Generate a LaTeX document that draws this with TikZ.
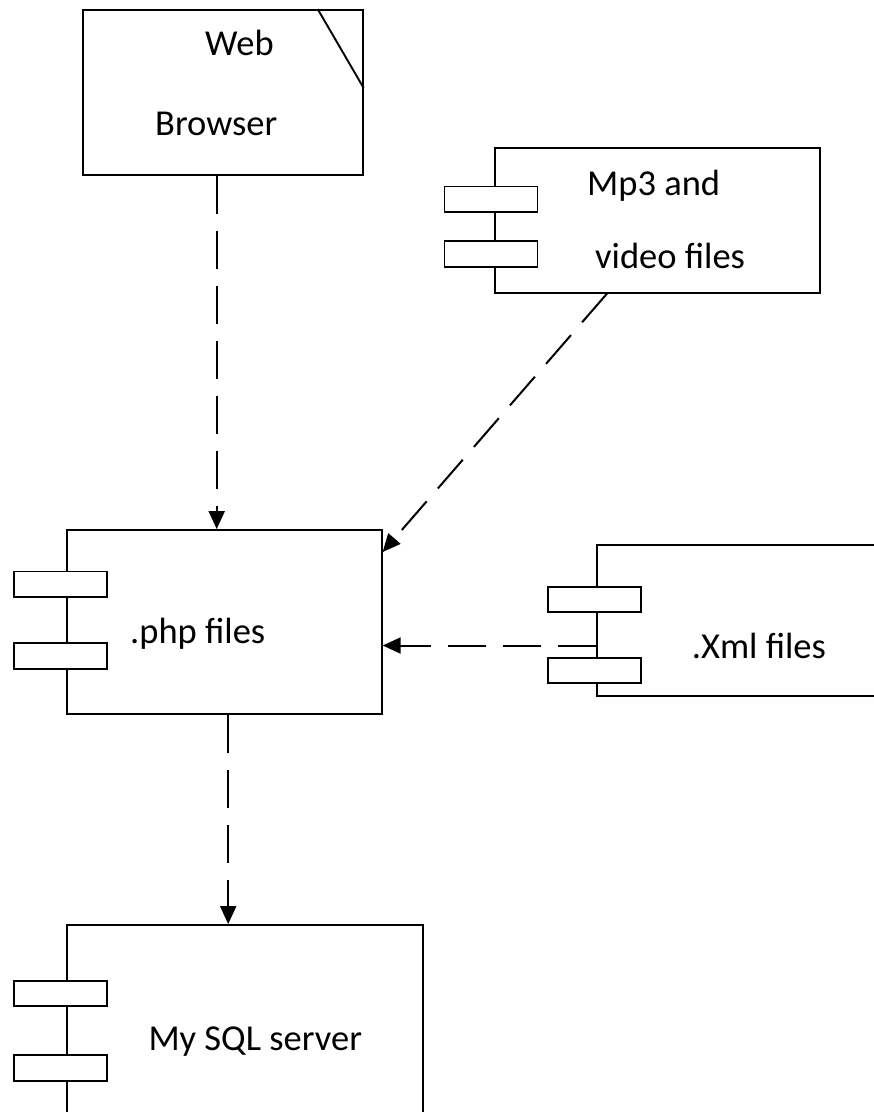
\documentclass[tikz,border=0pt]{standalone}
\usepackage{fontspec}
\setmainfont{Carlito}
\usetikzlibrary{arrows.meta}
\begin{document}
\begin{tikzpicture}[x=1pt,y=-1pt,
  box/.style={draw,line width=1.9pt,fill=white,inner sep=0pt,anchor=center},
  port/.style={draw,line width=1.9pt,fill=white,inner sep=0pt,minimum width=93pt,minimum height=25.5pt},
  lbl/.style={inner sep=0pt,anchor=base west,font=\fontsize{36.5}{40}\selectfont},
  dep/.style={line width=2pt,dash pattern=on 38pt off 17pt,-{Triangle[length=18pt,width=16pt]}}]
\useasboundingbox (0,0) rectangle (874,1112);
\clip (0,0) rectangle (874,1112);
% boxes
\node[box,minimum width=280pt,minimum height=164.7pt] (web) at (222.7,92.3) {};
\node[box,minimum width=325pt,minimum height=144.7pt] (mp3) at (657.5,220.3) {};
\node[box,minimum width=315pt,minimum height=184pt] (php) at (224.2,622) {};
\node[box,minimum width=322.7pt,minimum height=151pt] (xml) at (758.7,620.5) {};
\node[box,minimum width=356pt,minimum height=235pt] (sql) at (244.7,1042.5) {};
% fold corner of web browser
\coordinate (f1) at ([xshift=-46pt]web.north east);
\coordinate (f2) at ([yshift=-79pt]web.north east);
\draw[line width=1.9pt] (f1) -- (f2);
% component ports
\node[port] (mp3a) at (491,199.2) {};
\node[port] (mp3b) at (491,254) {};
\node[port] (phpa) at (60.5,584.2) {};
\node[port] (phpb) at (60.5,655.8) {};
\node[port] (xmla) at (594.2,599.5) {};
\node[port] (xmlb) at (594.2,670.5) {};
\node[port] (sqla) at (60.5,993.3) {};
\node[port] (sqlb) at (60.5,1067.8) {};
% labels
\node[lbl] (tweb) at (205,55) {Web};
\node[lbl] (tbrowser) at (155,135) {Browser};
\node[lbl] (tmp3) at (587,195) {Mp3 and};
\node[lbl] (tvideo) at (595,268) {video files};
\node[lbl] (tphp) at (130,643.3) {.php files};
\node[lbl] (txml) at (691.7,658.3) {.Xml files};
\node[lbl] (tsql) at (148.3,1050) {My SQL server};
% connectors
\draw[dep] ([xshift=-6pt]web.south) -- ([xshift=-6pt]web.south |- php.north);
\draw[dep] ([xshift=-50.5pt]mp3.south) -- ([yshift=-23pt]php.north east);
\draw[dep] ([yshift=-25pt]xml.west) -- ([yshift=-25pt]xml.west -| php.east);
\draw[dep] ([xshift=4pt]php.south) -- ([xshift=4pt]php.south |- sql.north);
\end{tikzpicture}
\end{document}
